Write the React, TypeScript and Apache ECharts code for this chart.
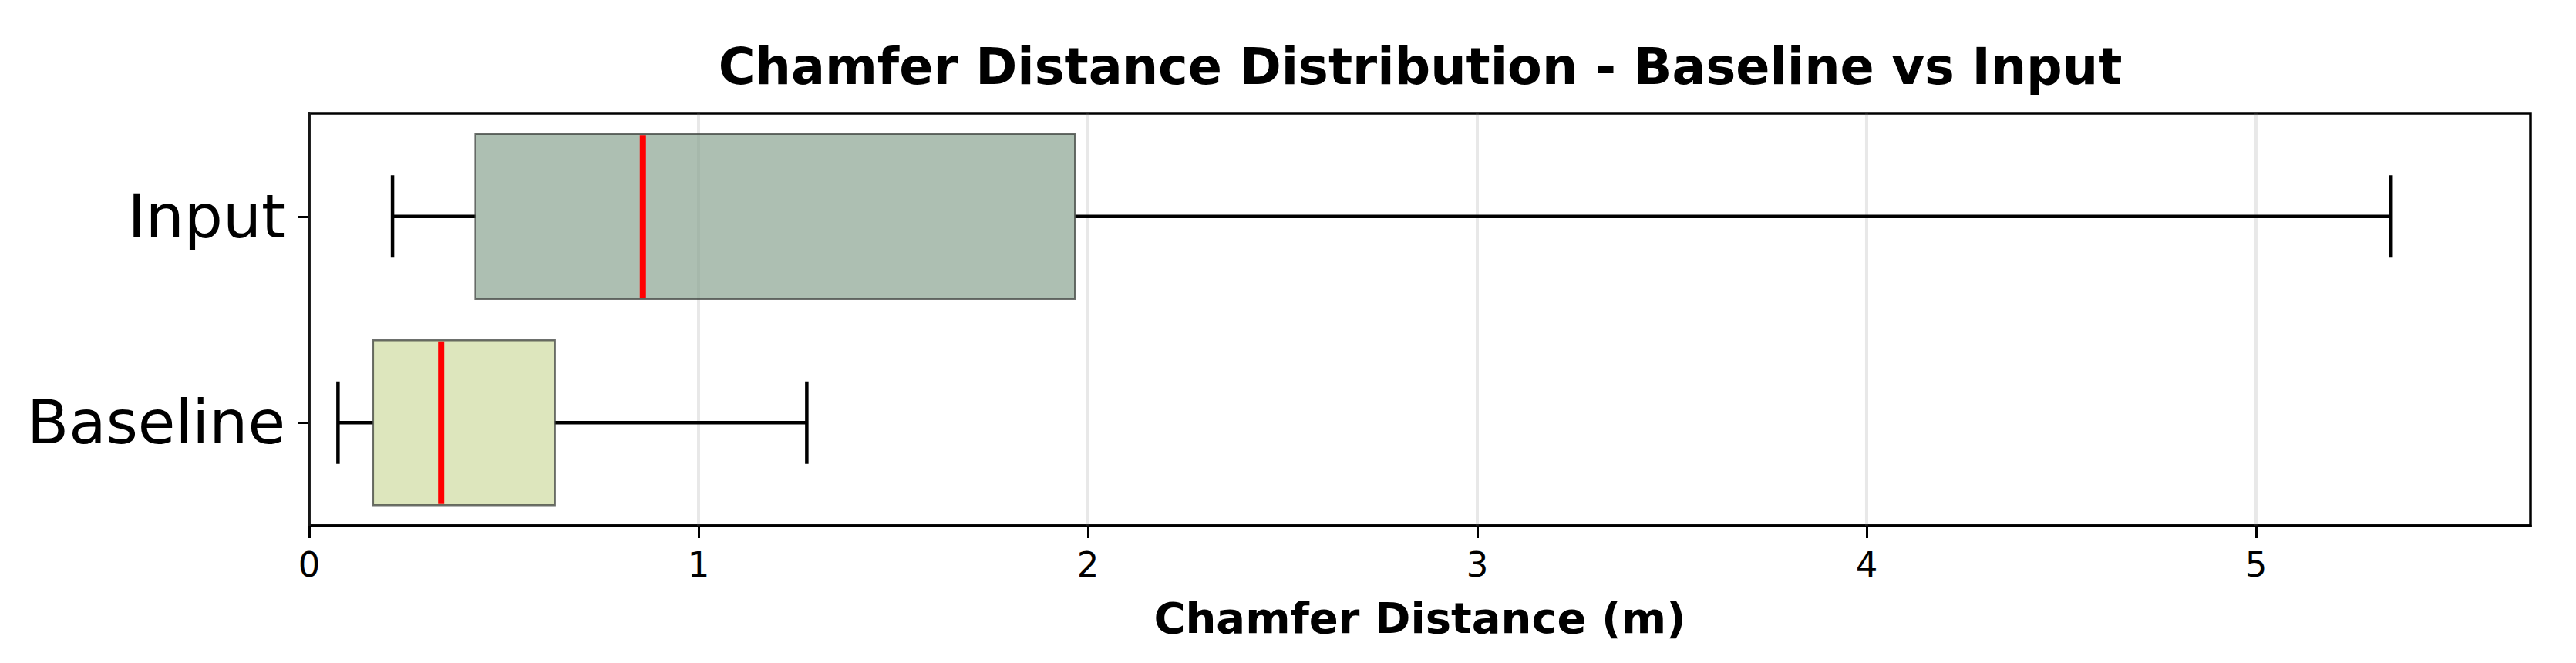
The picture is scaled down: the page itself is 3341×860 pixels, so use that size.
import React, { useEffect, useRef } from "react";
import * as echarts from "echarts";

// ---- data ----
const categories = ["Baseline", "Input"];
// [categoryIndex, lowerWhisker, q1, median, q3, upperWhisker]
const boxBaseline = [0, 0.074, 0.164, 0.339, 0.631, 1.278];
const boxInput = [1, 0.214, 0.427, 0.857, 1.967, 5.347];
const xTicks = [0, 1, 2, 3, 4, 5];
const xMax = 5.705;
const boxColors = ["rgba(206,219,161,0.7)", "rgba(138,164,145,0.7)"];

const FONT = "DejaVu Sans";

export default function App() {
  const ref = useRef<HTMLDivElement>(null);
  useEffect(() => {
    if (!ref.current) return;
    const chart = echarts.init(ref.current, undefined, { renderer: "svg" });
    const option: any = {
      animation: false,
      backgroundColor: "#ffffff",
      title: {
        text: "Chamfer Distance Distribution - Baseline vs Input",
        left: 1837,
        textAlign: "center",
        top: 48,
        textStyle: { fontFamily: FONT, fontSize: 65.2, fontWeight: "bold", color: "#000" },
      },
      grid: {
        left: 401,
        right: 59,
        top: 147,
        bottom: 178,
        show: true,
        borderColor: "#000",
        borderWidth: 3.5,
        backgroundColor: "transparent",
      },
      xAxis: {
        type: "value",
        min: 0,
        max: xMax,
        interval: 1,
        name: "Chamfer Distance (m)",
        nameLocation: "middle",
        nameGap: 91,
        nameTextStyle: { fontFamily: FONT, fontSize: 56, fontWeight: "bold", color: "#000" },
        axisLine: { show: true, lineStyle: { color: "#000", width: 3.5 } },
        axisTick: { show: true, customValues: xTicks, length: 16, lineStyle: { color: "#000", width: 3 } },
        axisLabel: { customValues: xTicks, fontFamily: FONT, fontSize: 45, color: "#000", margin: 28 },
        splitLine: { show: false },
      },
      yAxis: {
        type: "category",
        data: categories,
        axisLine: { show: true, lineStyle: { color: "#000", width: 3.5 } },
        axisTick: { show: true, alignWithLabel: true, length: 15, lineStyle: { color: "#000", width: 3 } },
        axisLabel: { fontFamily: FONT, fontSize: 79, color: "#000", margin: 31 },
        splitLine: { show: false },
      },
      series: [
        {
          type: "custom",
          z: 1,
          silent: true,
          encode: { x: 0, y: 1 },
          data: xTicks.map((v) => [v, 0]),
          renderItem: (params: any, api: any) => {
            const p = api.coord([api.value(0), 0]);
            const cs = params.coordSys;
            return {
              type: "line",
              shape: { x1: p[0], y1: cs.y, x2: p[0], y2: cs.y + cs.height },
              style: { stroke: "rgba(128,128,128,0.18)", lineWidth: 4 },
            };
          },
        },
        {
          type: "custom",
          z: 2,
          encode: { x: [1, 2, 3, 4, 5], y: 0 },
          data: [boxBaseline, boxInput],
          renderItem: (params: any, api: any) => {
            const cat = api.value(0);
            const band = api.size([0, 1])[1];
            const boxH = band * 0.8;
            const capH = boxH * 0.5;
            const pLo = api.coord([api.value(1), cat]);
            const pQ1 = api.coord([api.value(2), cat]);
            const pMed = api.coord([api.value(3), cat]);
            const pQ3 = api.coord([api.value(4), cat]);
            const pHi = api.coord([api.value(5), cat]);
            const y = pLo[1];
            const blk = { stroke: "#000", lineWidth: 4.5 };
            return {
              type: "group",
              children: [
                { type: "line", shape: { x1: pLo[0], y1: y, x2: pQ1[0], y2: y }, style: blk },
                { type: "line", shape: { x1: pQ3[0], y1: y, x2: pHi[0], y2: y }, style: blk },
                { type: "line", shape: { x1: pLo[0], y1: y - capH / 2, x2: pLo[0], y2: y + capH / 2 }, style: blk },
                { type: "line", shape: { x1: pHi[0], y1: y - capH / 2, x2: pHi[0], y2: y + capH / 2 }, style: blk },
                {
                  type: "rect",
                  shape: { x: pQ1[0], y: y - boxH / 2, width: pQ3[0] - pQ1[0], height: boxH },
                  style: { fill: boxColors[params.dataIndex], stroke: "rgba(60,64,60,0.75)", lineWidth: 2.5 },
                },
                {
                  type: "line",
                  shape: { x1: pMed[0], y1: y - boxH / 2 + 1.5, x2: pMed[0], y2: y + boxH / 2 - 1.5 },
                  style: { stroke: "#ff0000", lineWidth: 8 },
                },
              ],
            };
          },
        },
      ],
    };
    chart.setOption(option);
    return () => chart.dispose();
  }, []);
  return <div ref={ref} style={{ position: "absolute", left: 0, top: 0, width: 3341, height: 860 }} />;
}
